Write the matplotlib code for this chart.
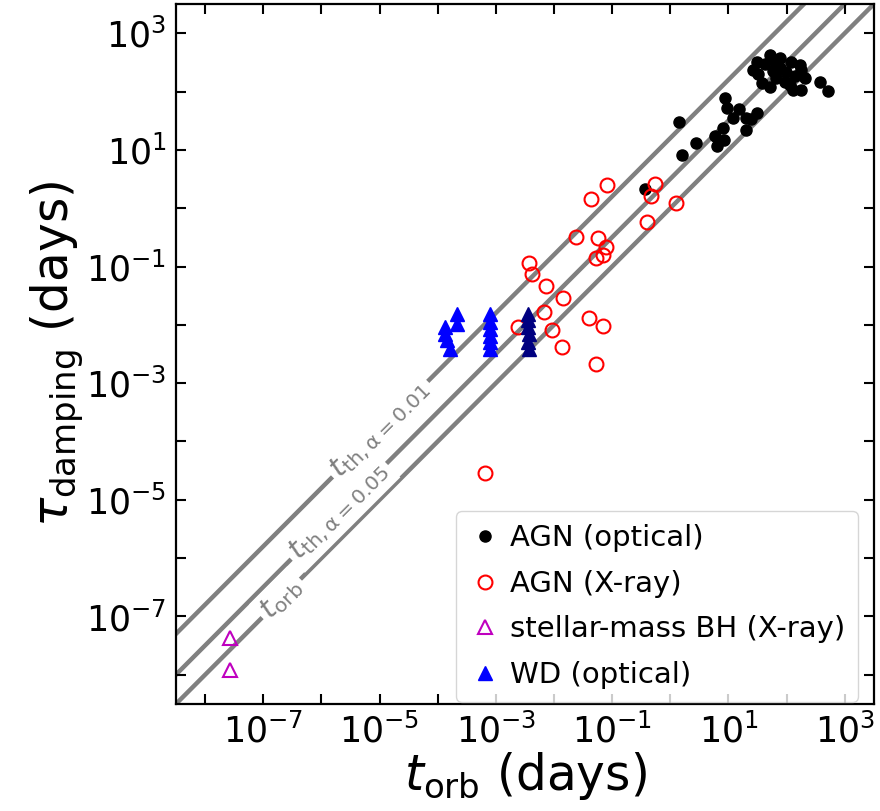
import numpy as np
import matplotlib
matplotlib.use("Agg")
import matplotlib.pyplot as plt
from matplotlib.ticker import LogLocator, FuncFormatter, NullLocator

# ---------------- data (days) ----------------
agn_opt_t = [0.37, 1.41, 1.56, 2.72, 8.7, 9.5, 15.3, 12.1, 8.1, 5.8, 8.3, 6.4,
             19.9, 19.9, 24.0, 31.1, 372, 516,
             51.4, 30.4, 26.5, 37.1, 51.4, 76.4, 76.4, 67.0, 99.5, 121, 169, 180,
             116, 129, 180, 93, 58, 42, 138, 32, 63, 204]
agn_opt_tau = [2.17, 30.4, 8.1, 12.9, 78.5, 52.8, 50.0, 34.7, 24.0, 17.5, 14.7, 11.6,
               21.8, 35.6, 33.7, 42.2, 148, 102,
               424, 327, 234, 138, 121, 372, 251, 169, 220, 327, 285, 234,
               129, 106, 106, 148, 222, 293, 182, 200, 331, 170]

agn_x_t = [0.080, 0.044, 0.54, 0.46, 1.25, 0.39, 0.024, 0.058, 0.078, 0.070, 0.053,
           0.0037, 0.0042, 0.0073, 0.0145, 0.0067, 0.0091, 0.0136, 0.0024, 0.040,
           0.070, 0.053, 6.5e-4]
agn_x_tau = [2.54, 1.46, 2.65, 1.60, 1.25, 0.57, 0.32, 0.31, 0.216, 0.155, 0.140,
             0.115, 0.075, 0.0455, 0.0288, 0.0165, 0.0080, 0.0042, 0.0091, 0.0130,
             0.0095, 0.0021, 2.9e-5]

bh_t = [2.7e-8, 2.7e-8]
bh_tau = [4.3e-8, 1.23e-8]

wd_t = [2.13e-4, 2.13e-4, 1.34e-4, 1.34e-4, 1.43e-4, 1.63e-4,
        7.9e-4, 7.9e-4, 7.9e-4, 7.9e-4, 7.9e-4, 7.9e-4]
wd_tau = [0.0155, 0.0104, 0.0091, 0.0070, 0.0054, 0.0039,
          0.0155, 0.0111, 0.0085, 0.0065, 0.0050, 0.0039]

wd2_t = [3.6e-3, 3.6e-3, 3.6e-3, 3.7e-3, 3.6e-3, 3.7e-3]
wd2_tau = [0.0155, 0.0121, 0.0091, 0.0070, 0.0050, 0.0039]

alphas = [0.01, 0.05]
line_t = [10**-8.5, 10**3.5]

# ---------------- figure ----------------
fig = plt.figure(figsize=(8.8, 8.11), dpi=100)
ax = fig.add_axes([0.200, 0.132, 0.793, 0.863])

grey = '#808080'
lt = np.array(line_t)
ax.plot(lt, lt, color=grey, lw=3.2, zorder=1)
for a in alphas:
    ax.plot(lt, lt / (2 * np.pi * a), color=grey, lw=3.2, zorder=1)

lab_kw = dict(color=grey, fontsize=21, rotation=45, rotation_mode='anchor',
              ha='center', va='center', zorder=2,
              bbox=dict(facecolor='white', edgecolor='none', pad=3))
x0 = 10**-6.69
ax.text(x0, x0, r'$t_{\rm orb}$', **lab_kw)
x1 = 10**-5.70
ax.text(x1, x1 / (2 * np.pi * 0.05), r'$t_{\rm th,\alpha=0.05}$', **lab_kw)
x2 = 10**-4.99
ax.text(x2, x2 / (2 * np.pi * 0.01), r'$t_{\rm th,\alpha=0.01}$', **lab_kw)

ax.plot(agn_opt_t, agn_opt_tau, 'o', color='k', ms=8, mec='k', ls='none',
        zorder=3, label='AGN (optical)')
ax.plot(agn_x_t, agn_x_tau, 'o', mfc='none', mec='r', ms=10, mew=1.5, ls='none',
        zorder=3, label='AGN (X-ray)')
ax.plot(bh_t, bh_tau, '^', mfc='none', mec='m', ms=10, mew=1.5, ls='none',
        zorder=3, label='stellar-mass BH (X-ray)')
ax.plot(wd_t, wd_tau, '^', color='b', ms=10, ls='none', zorder=3,
        label='WD (optical)')
ax.plot(wd2_t, wd2_tau, '^', color='#000080', ms=10, ls='none', zorder=3)

ax.set_xscale('log')
ax.set_yscale('log')
ax.set_xlim(10**-8.5, 10**3.5)
ax.set_ylim(10**-8.5, 10**3.5)


def fmt(v, p):
    e = int(round(np.log10(v)))
    return r'$10^{%d}$' % e if e % 2 != 0 else ''


for axis in (ax.xaxis, ax.yaxis):
    axis.set_major_locator(LogLocator(base=10, numticks=30))
    axis.set_minor_locator(NullLocator())
    axis.set_major_formatter(FuncFormatter(fmt))

ax.tick_params(which='major', direction='in', top=True, right=True,
               length=7, width=1.5, labelsize=25, pad=7)
for s in ax.spines.values():
    s.set_linewidth(1.6)

ax.set_xlabel(r'$t_{\rm orb}$ (days)', fontsize=35, labelpad=0)
ax.set_ylabel(r'$\tau_{\rm damping}$ (days)', fontsize=35, labelpad=0)

ax.legend(loc='lower right', fontsize=21, handletextpad=0.3, borderpad=0.45,
          labelspacing=0.6, handlelength=1.1, borderaxespad=0,
          bbox_to_anchor=(858 / 880, 1 - 702 / 811), bbox_transform=fig.transFigure)

fig.savefig('out.png', dpi=100)
